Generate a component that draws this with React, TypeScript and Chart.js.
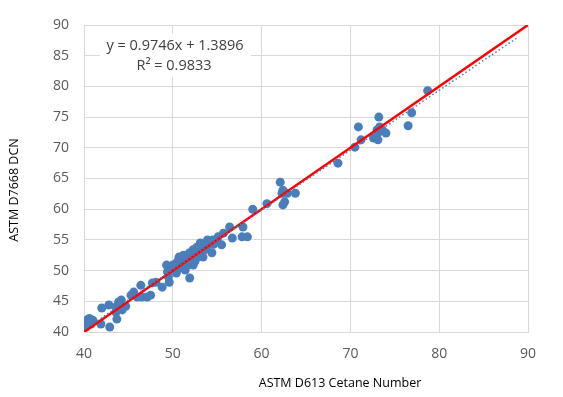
import React, { useEffect, useRef } from "react";
import { Chart, registerables } from "chart.js";

Chart.register(...registerables);

// ASTM D613 Cetane Number (x) vs ASTM D7668 DCN (y)
const xValues: number[] = [
  40.2, 40.3, 40.6, 40.8, 40.4, 41.0, 41.9, 42.0, 42.9, 42.8, 43.7, 43.6, 43.6, 43.9, 44.2, 44.7, 44.3,
  45.3, 45.6, 46.0, 46.4, 46.5, 47.1, 47.5, 47.7, 48.1, 48.8, 49.6, 49.3, 49.9, 50.4, 50.7, 51.3, 51.8,
  51.9, 51.6, 49.7, 49.4, 49.5, 50.0, 50.5, 50.8, 50.8, 51.2, 51.4, 51.6, 51.9, 51.9, 52.3, 52.3, 52.7,
  52.7, 52.8, 53.1, 53.4, 53.6, 53.9, 54.0, 54.2, 54.4, 54.5, 55.0, 55.1, 55.5, 55.7, 56.4, 56.7, 57.8,
  57.9, 58.4, 59.0, 60.6, 62.1, 62.4, 62.3, 62.9, 62.6, 62.4, 63.8, 68.6, 70.5, 70.9, 71.2, 72.6, 73.1,
  73.0, 73.3, 73.6, 74.0, 73.1, 73.2, 76.5, 76.9, 78.7,
  51.0, 52.0, 53.0, 53.3, 54.6, 52.5, 50.2, 53.7, 52.1,
];
const yValues: number[] = [
  40.8, 41.6, 42.2, 41.3, 42.0, 41.9, 41.3, 43.9, 40.8, 44.4, 42.1, 43.2, 44.1, 44.9, 45.2, 44.2, 43.6,
  46.0, 46.5, 45.7, 47.6, 45.7, 45.7, 46.0, 48.0, 48.1, 47.3, 48.1, 50.9, 50.6, 49.6, 52.2, 51.7, 51.2,
  48.8, 52.5, 50.4, 49.8, 49.0, 50.9, 51.4, 52.1, 50.4, 52.5, 50.1, 50.9, 52.9, 51.4, 53.4, 50.9, 53.8,
  52.1, 52.9, 54.5, 52.2, 53.4, 55.0, 54.2, 54.5, 52.9, 55.0, 54.7, 55.5, 54.2, 56.1, 57.1, 55.3, 55.5,
  57.1, 55.5, 60.0, 60.9, 64.4, 63.1, 62.6, 62.6, 61.2, 60.7, 62.6, 67.5, 70.1, 73.4, 71.3, 71.6, 71.3,
  72.9, 73.4, 72.9, 72.4, 72.4, 75.0, 73.6, 75.7, 79.3,
  51.6, 52.3, 53.0, 53.9, 54.3, 51.5, 50.0, 53.6, 51.0,
];

const xTicks: number[] = [40, 50, 60, 70, 80, 90];
const yTicks: number[] = [40, 45, 50, 55, 60, 65, 70, 75, 80, 85, 90];

const xTitle = "ASTM D613 Cetane Number";
const yTitle = "ASTM D7668 DCN";
const trendSlope = 0.9746;
const trendIntercept = 1.3896;
const equationText = "y = 0.9746x + 1.3896";
const r2Text = "R² = 0.9833";
const identityEnds: number[] = [40, 90];
const trendEnds: number[] = [40, 88.9];

const FONT = "'Open Sans', 'Liberation Sans', sans-serif";

export default function App() {
  const canvasRef = useRef<HTMLCanvasElement | null>(null);

  useEffect(() => {
    const canvas = canvasRef.current;
    if (!canvas) return;

    const points = xValues.map((x, i) => ({ x, y: yValues[i] }));
    const identity = identityEnds.map((v) => ({ x: v, y: v }));
    const trend = trendEnds.map((v) => ({ x: v, y: trendSlope * v + trendIntercept }));

    const textPlugin = {
      id: "textPlugin",
      afterDraw(chart: any) {
        const ctx = chart.ctx as CanvasRenderingContext2D;
        ctx.save();
        // equation box
        ctx.fillStyle = "#ffffff";
        ctx.fillRect(100, 34, 151, 43);
        ctx.fillStyle = "#404040";
        ctx.font = `14.5px ${FONT}`;
        ctx.textAlign = "center";
        ctx.textBaseline = "middle";
        ctx.fillText(equationText, 175, 46);
        ctx.fillText(r2Text, 174, 66);
        // axis titles
        ctx.fillStyle = "#000000";
        ctx.font = `12.5px ${FONT}`;
        ctx.fillText(xTitle, 340, 383);
        ctx.translate(14, 190);
        ctx.rotate(-Math.PI / 2);
        ctx.fillText(yTitle, 0, 0);
        ctx.restore();
      },
    };

    const chart = new Chart(canvas, {
      type: "scatter",
      data: {
        datasets: [
          {
            label: "Linear (DCN)",
            data: trend,
            showLine: true,
            borderColor: "#4a7ebb",
            borderWidth: 1.5,
            borderDash: [1.5, 2.5],
            pointRadius: 0,
            order: 0,
          },
          {
            label: "y = x",
            data: identity,
            showLine: true,
            borderColor: "#ff0000",
            borderWidth: 2.5,
            pointRadius: 0,
            order: 1,
          },
          {
            label: "DCN",
            data: points,
            backgroundColor: "#4a7ebb",
            borderColor: "#4a7ebb",
            borderWidth: 0,
            pointRadius: 4.5,
            order: 2,
          },
        ],
      },
      options: {
        responsive: false,
        animation: false,
        events: [],
        layout: { padding: { top: 25, right: 35, left: 0, bottom: 0 } },
        plugins: {
          legend: { display: false },
          tooltip: { enabled: false },
        },
        scales: {
          x: {
            type: "linear",
            min: 40,
            max: 90,
            afterBuildTicks: (scale: any) => {
              scale.ticks = xTicks.map((v) => ({ value: v }));
            },
            afterFit: (scale: any) => {
              scale.height = 65;
            },
            grid: { color: "#d9d9d9", lineWidth: 1, drawTicks: false },
            border: { color: "#d9d9d9" },
            ticks: {
              padding: 14,
              color: "#595959",
              font: { family: FONT, size: 14 },
            },
          },
          y: {
            type: "linear",
            min: 40,
            max: 90,
            afterBuildTicks: (scale: any) => {
              scale.ticks = yTicks.map((v) => ({ value: v }));
            },
            afterFit: (scale: any) => {
              scale.width = 84;
            },
            grid: { color: "#d9d9d9", lineWidth: 1, drawTicks: false },
            border: { color: "#d9d9d9" },
            ticks: {
              padding: 15,
              color: "#595959",
              font: { family: FONT, size: 14 },
            },
          },
        },
      },
      plugins: [textPlugin],
    } as any);

    return () => chart.destroy();
  }, []);

  return (
    <div style={{ position: "absolute", left: 0, top: 0, width: 563, height: 397, background: "#ffffff" }}>
      <canvas ref={canvasRef} width={563} height={397} style={{ display: "block" }} />
    </div>
  );
}
